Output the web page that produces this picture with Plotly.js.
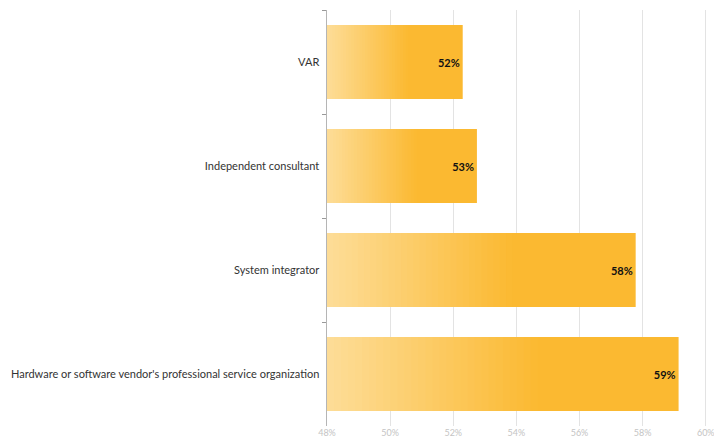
<!DOCTYPE html>
<html>
<head>
<meta charset="utf-8">
<script src="https://cdn.plot.ly/plotly-3.0.1.min.js"></script>
<style>html,body{margin:0;padding:0;background:#fff;}#chart{width:714px;height:446px;}</style>
</head>
<body>
<div id="chart"></div>
<script>
// Data
var categories = ["VAR", "Independent consultant", "System integrator", "Hardware or software vendor's professional service organization"];
var values = [52.3, 52.75, 57.78, 59.14];
var valueLabels = ["52%", "53%", "58%", "59%"];
var tickValues = [48, 50, 52, 54, 56, 58, 60];
var tickLabels = ["48%", "50%", "52%", "54%", "56%", "58%", "60%"];

// Style
var axisStart = 48;
var lightColor = [253, 221, 152];
var darkColor = [251, 185, 49];
var gradientSpan = 0.6;
var steps = 30;

function mix(t) {
  var c = lightColor.map(function (l, i) { return Math.round(l + (darkColor[i] - l) * t); });
  return 'rgb(' + c.join(',') + ')';
}

var traces = [];
traces.push({
  type: 'bar', orientation: 'h', y: categories, x: values,
  marker: {color: mix(1), line: {width: 0}}, hoverinfo: 'skip', showlegend: false
});
for (var i = steps - 1; i >= 0; i--) {
  var f = gradientSpan * (i + 1) / steps;
  traces.push({
    type: 'bar', orientation: 'h', y: categories,
    x: values.map(function (v) { return axisStart + (v - axisStart) * f; }),
    marker: {color: mix((i + 0.5) / steps), line: {width: 0}},
    hoverinfo: 'skip', showlegend: false
  });
}
traces.push({
  type: 'bar', orientation: 'h', y: categories, x: values,
  marker: {color: 'rgba(0,0,0,0)', line: {width: 0}},
  text: valueLabels, textposition: 'inside', insidetextanchor: 'end',
  textfont: {family: 'Lato', size: 11, color: '#111', weight: 'bold'},
  hoverinfo: 'skip', showlegend: false, cliponaxis: false
});

var layout = {
  width: 714, height: 446,
  margin: {l: 327, r: 7, t: 10, b: 20, pad: 0},
  paper_bgcolor: '#fff', plot_bgcolor: '#fff',
  barmode: 'overlay', bargap: 0.29,
  font: {family: 'Lato', size: 11, color: '#333'},
  showlegend: false,
  xaxis: {
    range: [48, 60.04], tickmode: 'array', tickvals: tickValues, ticktext: tickLabels,
    showgrid: true, gridcolor: '#e3e3e3', gridwidth: 1, zeroline: false,
    showline: false, ticks: '', tickfont: {size: 9, color: '#c4c4c4'},
    ticklabeloverflow: 'allow', fixedrange: true
  },
  yaxis: {
    type: 'category', categoryorder: 'array', categoryarray: categories,
    autorange: 'reversed', showgrid: false, zeroline: false,
    showline: true, linecolor: '#b5b5b5', linewidth: 1.5,
    ticks: 'outside', tickson: 'boundaries', ticklen: 4, tickcolor: '#999', tickwidth: 1,
    tickfont: {size: 11, color: '#333'}, ticklabelstandoff: 4, fixedrange: true
  }
};

Plotly.newPlot('chart', traces, layout, {displayModeBar: false, staticPlot: true});
</script>
</body>
</html>
